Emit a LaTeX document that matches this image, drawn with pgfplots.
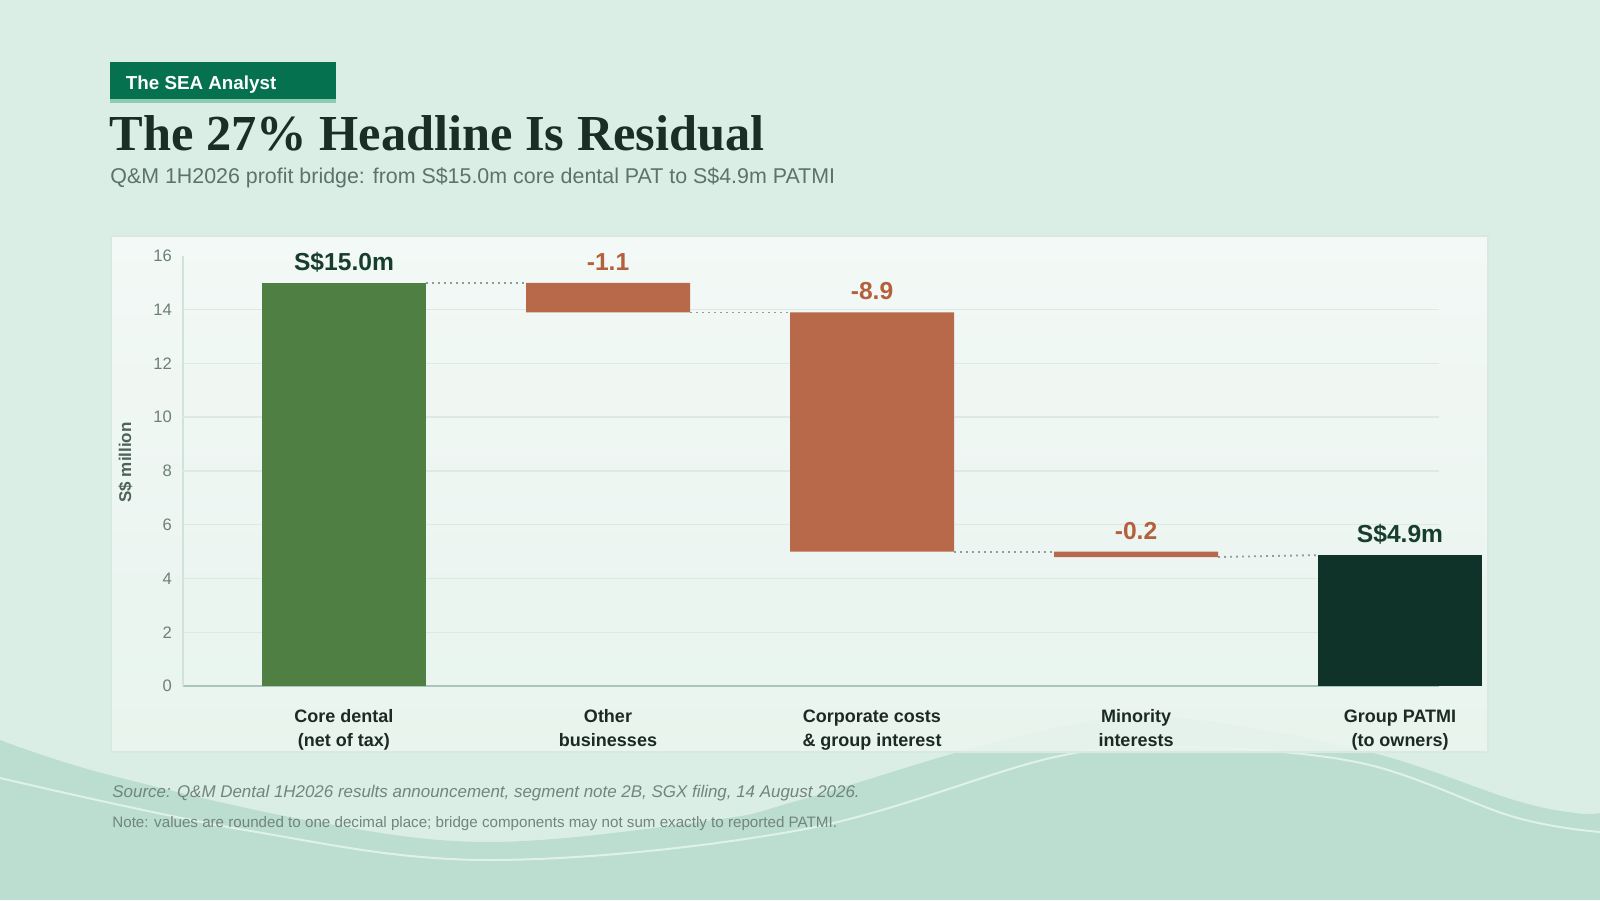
\documentclass[border=0pt]{standalone}
\usepackage{fontspec}
\setmainfont{Liberation Sans}
\newfontfamily\titlefont{Liberation Serif}
\usepackage{pgfplots}
\pgfplotsset{compat=1.18}
\definecolor{bg}{HTML}{DBEEE5}
\definecolor{wave}{HTML}{BCDED1}
\definecolor{tag}{HTML}{05714F}
\definecolor{tagline}{HTML}{8FCBB3}
\definecolor{titlec}{HTML}{1A2E26}
\definecolor{subc}{HTML}{5D7369}
\definecolor{barG}{HTML}{4F7F43}
\definecolor{barO}{HTML}{B8694A}
\definecolor{barD}{HTML}{0F3329}
\definecolor{labO}{HTML}{B5603D}
\definecolor{labD}{HTML}{173D2F}
\definecolor{gridc}{HTML}{DDE9E3}
\definecolor{axisc}{HTML}{A8C6B9}
\definecolor{yaxisc}{HTML}{D0E2D9}
\definecolor{tickc}{HTML}{6C8077}
\definecolor{catc}{HTML}{1C2A24}
\definecolor{srcc}{HTML}{71857C}
\definecolor{dotc}{HTML}{8E9D96}
\definecolor{panelT}{HTML}{F7FBF9}
\definecolor{panelB}{HTML}{EAF5EF}
\definecolor{panelE}{HTML}{D8E9E1}
\definecolor{ylabc}{HTML}{4E6258}
\newcommand{\st}{\rule{0pt}{9pt}}
\begin{document}
\begin{tikzpicture}
\useasboundingbox (0,0) rectangle (800pt,450pt);
% background
\fill[bg] (0,0) rectangle (800pt,450pt);
\fill[wave] plot[smooth, tension=0.6] coordinates {(0pt,80pt) (51pt,63.5pt) (153pt,40pt) (245pt,29pt) (357pt,40pt) (400pt,50pt) (502pt,80pt) (578.5pt,91.5pt) (680.5pt,75pt) (757pt,50pt) (787.5pt,43.5pt) (800pt,43.5pt)} -- (800pt,0pt) -- (0pt,0pt) -- cycle;
\draw[white, opacity=0.55, line width=1pt] plot[smooth, tension=0.6] coordinates {(0pt,61pt) (122.5pt,35pt) (245pt,20pt) (400pt,35pt) (527.5pt,71.5pt) (591.5pt,76.5pt) (680.5pt,68.5pt) (757pt,41.5pt) (800pt,34pt)};
% panel
\shade[top color=panelT, bottom color=panelB, opacity=0.88] (55.5pt,74pt) rectangle (744pt,332pt);
\draw[panelE, line width=0.7pt] (55.5pt,74pt) rectangle (744pt,332pt);
% header
\fill[tag] (55pt,400.5pt) rectangle (168pt,419pt);
\fill[tagline] (55pt,398.5pt) rectangle (168pt,400.5pt);
\node[anchor=base west, inner sep=0, text=white, font=\bfseries\fontsize{9.4}{11}\selectfont] at (62.75pt,405.3pt) {The SEA Analyst};
\node[anchor=base west, inner sep=0, text=titlec, font=\titlefont\bfseries\fontsize{25.2}{30}\selectfont] at (54.5pt,374.5pt) {The 27\% Headline Is Residual};
\node[anchor=base west, inner sep=0, text=subc, font=\fontsize{10.7}{13}\selectfont] at (55pt,358pt) {Q\&M 1H2026 profit bridge: from S\$15.0m core dental PAT to S\$4.9m PATMI};
\node[anchor=base west, inner sep=0, text=srcc, font=\itshape\fontsize{8.47}{10}\selectfont] at (56pt,51.5pt) {Source: Q\&M Dental 1H2026 results announcement, segment note 2B, SGX filing, 14 August 2026.};
\node[anchor=base west, inner sep=0, text=srcc, font=\fontsize{7.58}{9}\selectfont] at (56pt,36.2pt) {Note: values are rounded to one decimal place; bridge components may not sum exactly to reported PATMI.};
% main axis
\begin{axis}[
  at={(91.5pt,107pt)}, anchor=south west,
  scale only axis, width=628pt, height=215pt,
  xmin=-0.6098, xmax=4.1477, ymin=0, ymax=16,
  clip=false,
  ybar stacked, bar width=82pt,
  axis x line=bottom, axis y line=left,
  x axis line style={-, axisc, line width=0.9pt},
  y axis line style={-, yaxisc, line width=0.8pt},
  major tick length=0pt,
  xtick={0,1,2,3,4},
  xticklabels={{\st Core dental\\(net of tax)},{\st Other\\businesses},{\st Corporate costs\\\& group interest},{\st Minority\\interests},{\st Group PATMI\\(to owners)}},
  xticklabel style={align=center, anchor=north, yshift=-5.8pt, text=catc, font=\bfseries\fontsize{9}{12}\selectfont},
  ytick={0,2,...,16},
  /pgf/number format/assume math mode=true,
  yticklabel style={text=tickc, font=\fontsize{8.3}{10}\selectfont, anchor=east, xshift=-2pt},
  extra y ticks={2,4,...,14},
  extra y tick labels={},
  extra y tick style={grid=major, major grid style={gridc, line width=0.75pt}},
  ylabel={S\$ million},
  ylabel style={at={(axis description cs:-0.0458,0.52)}, anchor=center, rotate=0, text=ylabc, font=\bfseries\fontsize{8.5}{10}\selectfont},
]
\addplot[draw=none, fill=none] coordinates {(0,0) (1,13.9) (2,5.0) (3,4.8) (4,0)};
\addplot[draw=none, fill=barG] coordinates {(0,15.0) (1,0) (2,0) (3,0) (4,0)};
\addplot[draw=none, fill=barO] coordinates {(0,0) (1,1.1) (2,8.9) (3,0.2) (4,0)};
\addplot[draw=none, fill=barD] coordinates {(0,0) (1,0) (2,0) (3,0) (4,4.87)};
\end{axis}
% overlay axis: connectors and labels
\begin{axis}[
  at={(91.5pt,107pt)}, anchor=south west,
  scale only axis, width=628pt, height=215pt,
  xmin=-0.6098, xmax=4.1477, ymin=0, ymax=16,
  clip=false, hide axis,
]
\addplot[dotc, line width=0.9pt, dash pattern=on 0.9pt off 2.1pt] coordinates {(0.3106,15.0) (0.6894,15.0)};
\addplot[dotc, line width=0.9pt, dash pattern=on 0.9pt off 2.1pt] coordinates {(1.3106,13.9) (1.6894,13.9)};
\addplot[dotc, line width=0.9pt, dash pattern=on 0.9pt off 2.1pt] coordinates {(2.3106,5.0) (2.6894,5.0)};
\addplot[dotc, line width=0.9pt, dash pattern=on 0.9pt off 2.1pt] coordinates {(3.3106,4.8) (3.6894,4.87)};
\addplot[draw=none, mark=none, nodes near coords, point meta=explicit symbolic,
  nodes near coords style={anchor=base, yshift=6.3pt, text=labD, font=\bfseries\fontsize{12.3}{14}\selectfont}]
  coordinates {(0,15.0) [S\$15.0m] (4,4.87) [S\$4.9m]};
\addplot[draw=none, mark=none, nodes near coords, point meta=explicit symbolic,
  nodes near coords style={anchor=base, yshift=6.3pt, text=labO, font=\bfseries\fontsize{12.3}{14}\selectfont}]
  coordinates {(1,15.0) [-1.1] (2,13.9) [-8.9] (3,5.0) [-0.2]};
\end{axis}
\end{tikzpicture}
\end{document}
